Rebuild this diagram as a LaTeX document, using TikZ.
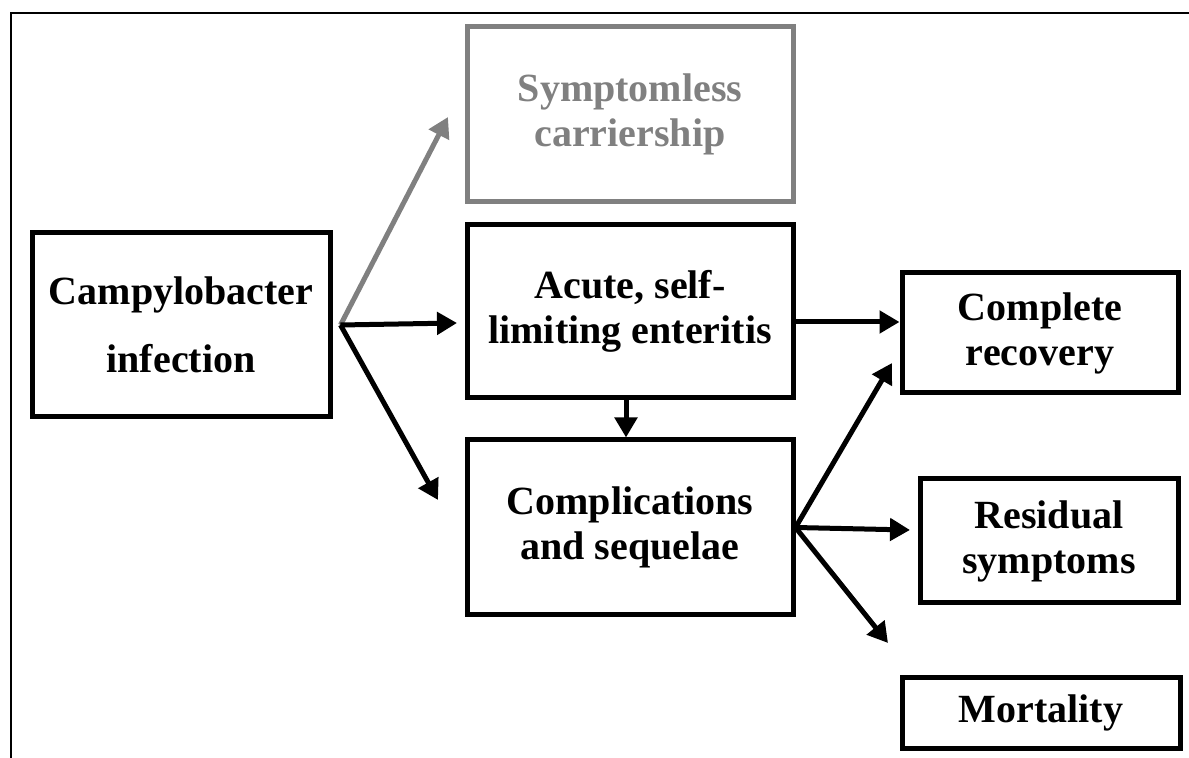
\documentclass[tikz,border=0pt]{standalone}
\usepackage{fontspec}
\setmainfont{Liberation Serif}
\usetikzlibrary{arrows.meta}
\usetikzlibrary{positioning}
\definecolor{carriergrey}{RGB}{128,128,128}

\tikzset{
  box/.style={draw, line width=2.5pt, align=center, inner sep=0pt,
    font=\bfseries\fontsize{20}{22.5}\selectfont},
  greybox/.style={box, draw=carriergrey, text=carriergrey},
  arr/.style={line width=2.5pt, -{Triangle[length=10pt,width=11pt]}},
  greyarr/.style={arr, draw=carriergrey}
}

\begin{document}
\begin{tikzpicture}[x=0.5pt,y=-0.5pt]
 \useasboundingbox (0,0) rectangle (1189,758);
 % frame
 \draw[line width=1pt] (11,758) -- (11,13) -- (1189,13);

 \node[box, minimum width=149pt, minimum height=92pt,
   font=\bfseries\fontsize{20}{34}\selectfont] (infect) at (181,325)
   {Campylobacter\\infection};
 \node[greybox, minimum width=163pt, minimum height=87.5pt] (carrier) at (630,114.5)
   {Symptomless\\carriership};
 \node[box, minimum width=163pt, minimum height=86.5pt] (acute) at (630,311.5)
   {Acute, self-\\limiting enteritis};
 \node[box, minimum width=163pt, minimum height=87.5pt] (compl) at (630,527.5)
   {Complications\\and sequelae};
 \node[box, minimum width=138pt, minimum height=60pt] (recov) at (1040,333)
   {Complete\\recovery};
 \node[box, minimum width=129pt, minimum height=62pt] (resid) at (1049,541)
   {Residual\\symptoms};
 \node[box, minimum width=139pt, minimum height=35pt] (mort) at (1041,713)
   {Mortality};

 % arrow ends
 \coordinate[right=4pt of infect.east] (fork);
 \coordinate (tocarrier) at (448,117);
 \coordinate (toacute) at (457,323);
 \coordinate (tocompl) at (438,500);
 \coordinate (midrow) at (0,322);
 \coordinate (torecov) at (892,363);
 \coordinate (toresid) at (910,530);
 \coordinate (tomort) at (888,643);

 \draw[greyarr] (fork) -- (tocarrier);
 \draw[arr] (fork) -- (toacute);
 \draw[arr] (fork) -- (tocompl);
 \draw[arr] (acute.east |- midrow) -- (recov.west |- midrow);
 \draw[arr] ([xshift=-2pt]acute.south) -- ([xshift=-2pt]compl.north);
 \draw[arr] (compl.east) -- (torecov);
 \draw[arr] (compl.east) -- (toresid);
 \draw[arr] (compl.east) -- (tomort);
\end{tikzpicture}
\end{document}
